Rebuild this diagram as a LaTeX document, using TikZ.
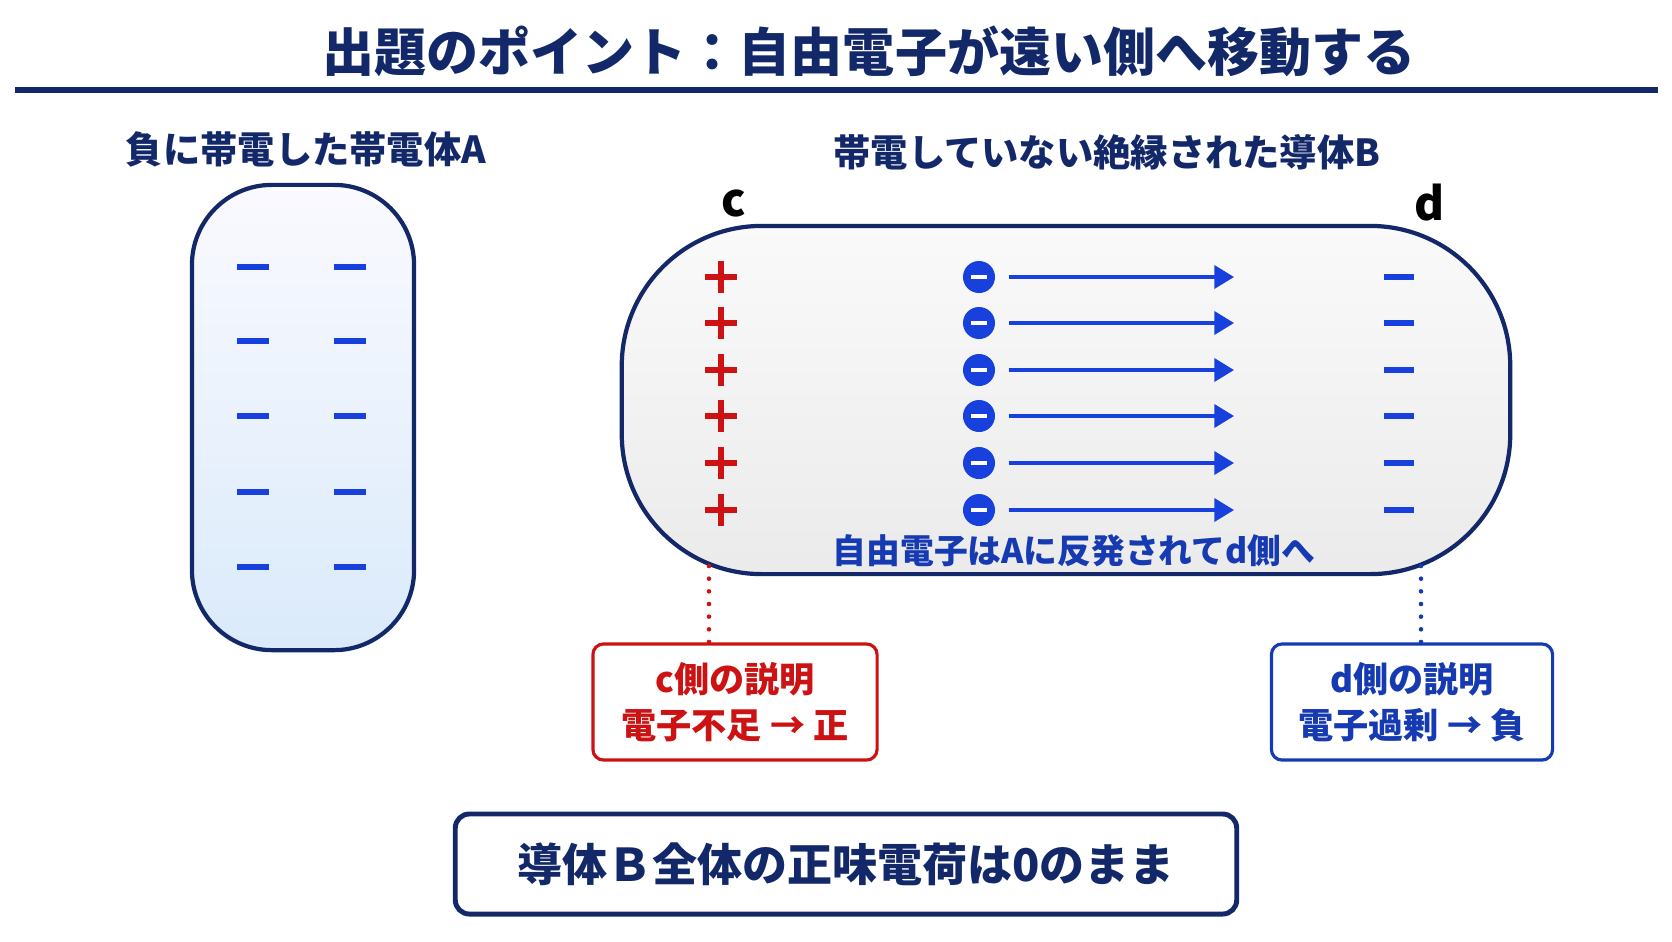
\documentclass[tikz,border=0pt]{standalone}
\usepackage{fontspec}
\setmainfont{Noto Sans CJK JP}
\usepackage{xcolor}
\usetikzlibrary{arrows.meta}

\definecolor{navy}{RGB}{18,40,105}
\definecolor{chgred}{RGB}{204,18,18}
\definecolor{chgblue}{RGB}{24,64,220}
\definecolor{txtblue}{RGB}{22,58,178}
\definecolor{paleblue}{RGB}{218,234,250}

\begin{document}
\begin{tikzpicture}[x=0.01cm, y=-0.01cm,
    heading/.style={text=navy, font=\bfseries\fontsize{10.6}{13}\selectfont},
    body/.style={draw=navy, line width=1.2pt, inner sep=0pt},
    bar/.style={chgblue, line width=1.8pt},
    plusbar/.style={chgred, line width=1.6pt},
    electron/.style={circle, fill=chgblue, minimum size=0.32cm, inner sep=0pt},
    flow/.style={chgblue, line width=0.9pt, shorten <=0.13cm, -{Triangle[length=5.6pt, width=6.6pt]}},
    notebox/.style={draw, line width=0.9pt, rounded corners=3pt, align=center,
        minimum width=2.84cm, minimum height=1.16cm, font=\bfseries\fontsize{10}{13.1}\selectfont},
    tieline/.style={line width=1.3pt, line cap=round, dash pattern=on 0pt off 3.6pt}]
    \useasboundingbox (0,0) rectangle (1672,941);

    % Title and rule
    \node[text=navy, font=\bfseries\fontsize{14.8}{18}\selectfont] (title) at (869,51)
        {出題のポイント：自由電子が遠い側へ移動する};
    \draw[navy, line width=1.7pt] (15,90) -- (1658,90);

    % Charged body A
    \node[heading] (headA) at (306,149) {負に帯電した帯電体A};
    \node[body, rounded corners=0.8cm, minimum width=2.22cm, minimum height=4.65cm,
        top color=blue!2, bottom color=paleblue] (bodyA) at (303,417.5) {};
    \foreach \y in {267,341,416,492,567} {
        \draw[bar] (237,\y) -- (269,\y);
        \draw[bar] (334,\y) -- (366,\y);
    }

    % Conductor B
    \node[heading] (headB) at (1107,152) {帯電していない絶縁された導体B};
    \node[font=\bfseries\fontsize{13}{15}\selectfont] (labc) at (734,203) {c};
    \node[font=\bfseries\fontsize{13}{15}\selectfont] (labd) at (1430,203) {d};
    \node[body, rounded corners=1.4cm, minimum width=8.88cm, minimum height=3.48cm,
        top color=black!2, bottom color=black!8] (bodyB) at (1066,400) {};

    % Induced charges and moving electrons
    \foreach \y [count=\i] in {277,323,370,416,463,510} {
        \draw[plusbar] (705,\y) -- (737,\y);
        \draw[plusbar] (721,\y-16) -- (721,\y+16);
        \node[electron] (e\i) at (979,\y) {};
        \draw[white, line width=1.4pt] (971,\y) -- (987,\y);
        \coordinate (t\i) at (1234,\y);
        \draw[flow] (e\i) -- (t\i);
        \draw[bar] (1384,\y) -- (1414,\y);
    }
    \node[text=txtblue, font=\bfseries\fontsize{9.6}{12}\selectfont] (repel) at (1074,551)
        {自由電子はAに反発されてd側へ};

    % Side notes
    \node[notebox, draw=chgred, text=chgred] (cnote) at (735,702)
        {c側の説明\\電子不足 → 正};
    \node[notebox, draw=txtblue, text=txtblue, minimum width=2.81cm] (dnote) at (1412,702)
        {d側の説明\\電子過剰 → 負};
    \coordinate (cfoot) at (709,566);
    \coordinate (dfoot) at (1421,566);
    \draw[tieline, chgred] (cfoot) -- (cfoot |- cnote.north);
    \draw[tieline, txtblue] (dfoot) -- (dfoot |- dnote.north);

    % Summary
    \node[draw=navy, line width=1.4pt, rounded corners=4pt, minimum width=7.81cm,
        minimum height=1.0cm, text=navy, font=\bfseries\fontsize{12.8}{15}\selectfont]
        (total) at (846,864) {導体Ｂ全体の正味電荷は0のまま};
\end{tikzpicture}
\end{document}
